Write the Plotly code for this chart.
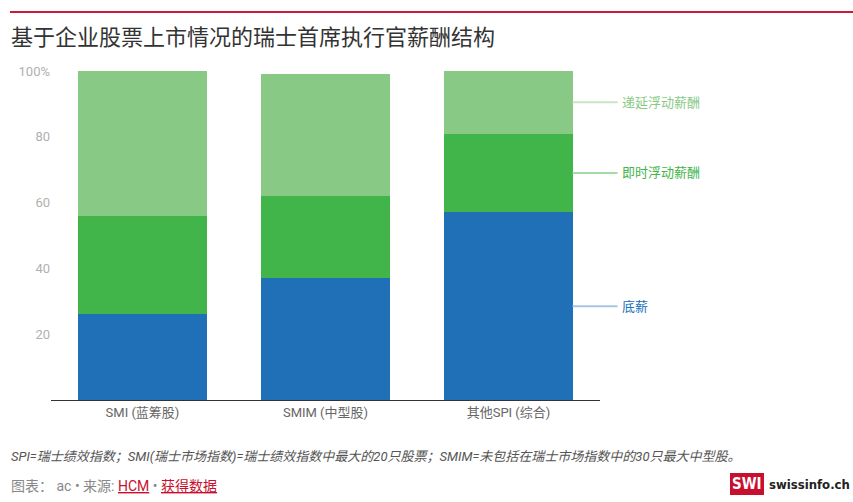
import plotly.graph_objects as go

categories = ["SMI (蓝筹股)", "SMIM (中型股)", "其他SPI (综合)"]
base_salary = [26, 37, 57]
immediate_variable = [30, 25, 24]
deferred_variable = [44, 37, 19]
series_names = ["底薪", "即时浮动薪酬", "递延浮动薪酬"]
colors = ["#2070b8", "#41b549", "#88c985"]
line_colors = ["#a6c5e4", "#a3dba7", "#c5e6c3"]
y_tickvals = [20, 40, 60, 80, 100]
y_ticktext = ["20", "40", "60", "80", "100%"]

FONT = "Roboto, 'Noto Sans CJK SC', sans-serif"
W, H = 853, 502
ML, MR, MT, MB = 51, 253, 71, 102
BARGAP = 0.3

fig = go.Figure()
series = [base_salary, immediate_variable, deferred_variable]
for name, vals, col in zip(series_names, series, colors):
    fig.add_trace(go.Bar(x=categories, y=vals, name=name, marker=dict(color=col, line=dict(width=0)),
                         hoverinfo="y+name"))

def py(pix):
    return (H - MB - pix) / (H - MT - MB)
def px(pix):
    return (pix - ML) / (W - ML - MR)

# right-side labels at the middle of each segment of the last bar
n = len(categories)
bar_edge = (n - 1 + 0.5 + (1 - BARGAP) / 2) / n
line_end = bar_edge + 45 / (W - ML - MR)
last = [s[-1] for s in series]
cum = 0
for name, v, col, lc in zip(series_names, last, colors, line_colors):
    mid = cum + v / 2
    cum += v
    fig.add_shape(type="line", xref="paper", yref="y", x0=bar_edge, x1=line_end, y0=mid, y1=mid,
                  line=dict(color=lc, width=2))
    fig.add_annotation(x=line_end, y=mid, xref="paper", yref="y", text=name, showarrow=False,
                       xanchor="left", yanchor="middle", xshift=2,
                       font=dict(family=FONT, size=13, color=col))

fig.update_layout(
    width=W, height=H,
    margin=dict(l=ML, r=MR, t=MT, b=MB),
    paper_bgcolor="white", plot_bgcolor="white",
    barmode="stack", bargap=BARGAP,
    showlegend=False,
    font=dict(family=FONT, size=13, color="#666"),
    xaxis=dict(range=[-0.5, n - 0.5], showgrid=False, showline=True, linecolor="#333", linewidth=1, ticks="",
               tickfont=dict(size=13, color="#666"), fixedrange=True),
    yaxis=dict(range=[0, 100], showgrid=False, zeroline=False, showline=False,
               tickvals=y_tickvals, ticktext=y_ticktext, ticks="",
               tickfont=dict(size=13, color="#b0b0b0"), fixedrange=True),
)

fig.add_shape(type="line", xref="paper", yref="paper", x0=px(10), x1=px(853), y0=py(12), y1=py(12),
              line=dict(color="#d0173d", width=2))

fig.add_annotation(xref="paper", yref="paper", x=px(9), y=py(38), text="基于企业股票上市情况的瑞士首席执行官薪酬结构",
                   showarrow=False, xanchor="left", yanchor="middle",
                   font=dict(family=FONT, size=22, color="#333"))

fig.add_annotation(xref="paper", yref="paper", x=px(9), y=py(456),
                   text="<i>SPI=瑞士绩效指数；SMI(瑞士市场指数)=瑞士绩效指数中最大的20只股票；SMIM=未包括在瑞士市场指数中的30只最大中型股。</i>",
                   showarrow=False, xanchor="left", yanchor="middle",
                   font=dict(family=FONT, size=13, color="#555"))

fig.add_annotation(xref="paper", yref="paper", x=px(9), y=py(486),
                   text="图表： ac • 来源: <span style='color:#c8102e'><u>HCM</u></span> • <span style='color:#c8102e'><u>获得数据</u></span>",
                   showarrow=False, xanchor="left", yanchor="middle",
                   font=dict(family=FONT, size=14, color="#888"))

# logo
fig.add_shape(type="rect", xref="paper", yref="paper", x0=px(730), x1=px(764), y0=py(473), y1=py(495),
              fillcolor="#c8102e", line=dict(width=0))
fig.add_annotation(xref="paper", yref="paper", x=px(747), y=py(484), text="<b>SWI</b>",
                   showarrow=False, xanchor="center", yanchor="middle",
                   font=dict(family="'DejaVu Sans Condensed', 'Liberation Sans Narrow', sans-serif", size=15, color="white"))
fig.add_annotation(xref="paper", yref="paper", x=px(767), y=py(484), text="<b>swissinfo.ch</b>",
                   showarrow=False, xanchor="left", yanchor="middle",
                   font=dict(family="'DejaVu Sans Condensed', sans-serif", size=13, color="#222"))

fig.write_html("out.html", config={"displayModeBar": False},
               post_script="document.body.style.margin='0';document.body.style.overflow='hidden';")
